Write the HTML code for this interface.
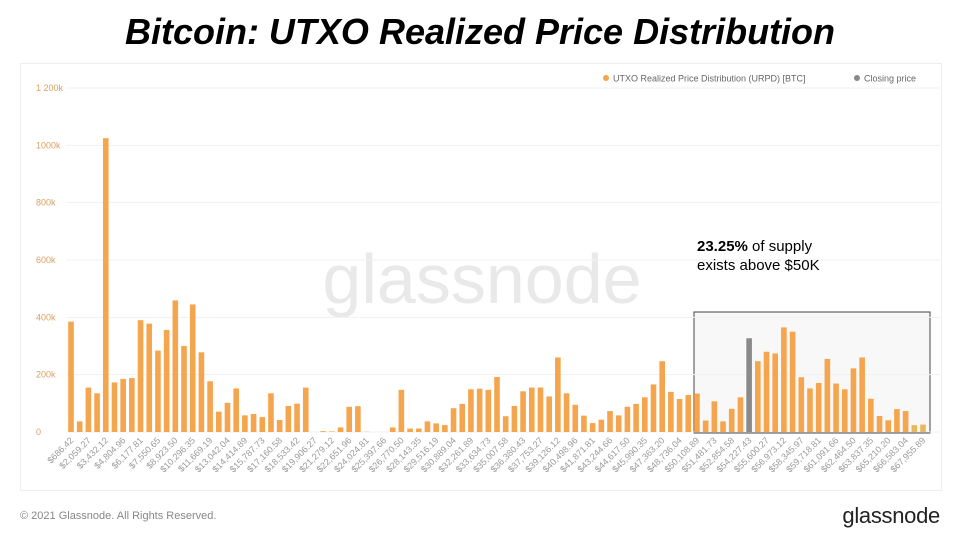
<!DOCTYPE html>
<html><head><meta charset="utf-8">
<style>
body{margin:0;width:960px;height:540px;background:#fff;font-family:"Liberation Sans",sans-serif;overflow:hidden;position:relative}
#title{position:absolute;left:0;top:11px;width:960px;text-align:center;font-weight:bold;font-style:italic;font-size:36px;color:#000}
#panel{position:absolute;left:20px;top:63px;width:922px;height:428px;border:1px solid #eee;box-sizing:border-box}
#foot{position:absolute;left:20px;top:510px;font-size:11px;color:#888}
#logo{position:absolute;right:20px;top:503px;font-size:22px;color:#222;letter-spacing:-0.3px}
svg{position:absolute;left:0;top:0}
</style></head><body>
<div id="title">Bitcoin: UTXO Realized Price Distribution</div>
<div id="panel"></div>
<svg id="chart" width="960" height="540"></svg>
<div id="foot">© 2021 Glassnode. All Rights Reserved.</div>
<div id="logo">glassnode</div>
<script>
const values=[385,37,155,135,1025,173,185,188,390,378,284,356,459,300,445,278,177,71,102,152,58,63,52,135,42,91,99,155,0,3,2,16,88,90,1,0,0,16,147,12,12,37,30,24,83,98,149,151,147,192,55,91,142,155,155,124,260,135,95,57,31,43,73,58,88,98,121,166,247,140,115,129,134,40,107,37,81,121,327,247,280,274,365,350,191,152,171,255,169,149,222,260,116,56,41,80,73,24,26];
const closingIndex=78;
const xLabels=["$686.42","$2,059.27","$3,432.12","$4,804.96","$6,177.81","$7,550.65","$8,923.50","$10,296.35","$11,669.19","$13,042.04","$14,414.89","$15,787.73","$17,160.58","$18,533.42","$19,906.27","$21,279.12","$22,651.96","$24,024.81","$25,397.66","$26,770.50","$28,143.35","$29,516.19","$30,889.04","$32,261.89","$33,634.73","$35,007.58","$36,380.43","$37,753.27","$39,126.12","$40,498.96","$41,871.81","$43,244.66","$44,617.50","$45,990.35","$47,363.20","$48,736.04","$50,108.89","$51,481.73","$52,854.58","$54,227.43","$55,600.27","$56,973.12","$58,345.97","$59,718.81","$61,091.66","$62,464.50","$63,837.35","$65,210.20","$66,583.04","$67,955.89"];
const yTicks=[0,200,400,600,800,1000,1200];
const yTickLabels=["0","200k","400k","600k","800k","1000k","1 200k"];

const NS="http://www.w3.org/2000/svg";
const svg=document.getElementById('chart');
const x0=71,x1=923,yBase=432,yTop=88,yMax=1200;
const n=values.length;
const step=(x1-x0)/(n-1);
const xs=i=>x0+i*step;
const ys=v=>yBase-v*(yBase-yTop)/yMax;
function mk(t,a,p){const e=document.createElementNS(NS,t);for(const k in a)e.setAttribute(k,a[k]);(p||svg).appendChild(e);return e;}

let wm=mk('text',{x:482,y:303,'text-anchor':'middle','font-size':70,fill:'#e9e9e9','font-family':'Liberation Sans, sans-serif'});
wm.textContent='glassnode';



let hb=mk('rect',{x:694,y:312,width:236,height:121,fill:'#f8f8f8',stroke:'#444','stroke-width':1});



yTicks.forEach((t,i)=>{
  const y=ys(t);
  let g=mk('line',{x1:66,x2:940,y1:y,y2:y,stroke:'#f1f1f1','stroke-width':1});
  
  
  let tx=mk('text',{x:36,y:y+3,'font-size':9,fill:'#d9a060'});
  tx.textContent=yTickLabels[i];
  
  
});

values.forEach((v,i)=>{
  const x=xs(i),y=ys(v);
  let r=mk('rect',{x:x-2.8,y:y,width:5.6,height:Math.max(0,yBase-y),fill:i===closingIndex?'#8a8a8a':(i>=n-2?'#e8b860':'#f4a54d')});
  
  
});

xLabels.forEach((l,j)=>{
  const x=xs(j*2);
  let t=mk('text',{x:x+3,y:441,'font-size':9,fill:'#999','text-anchor':'end',transform:`rotate(-45 ${x+3} 441)`});
  t.textContent=l;
  
  
});

let l1=mk('circle',{cx:606,cy:78,r:3,fill:'#f4a54d'});


let lt1=mk('text',{x:613,y:81.5,'font-size':9,fill:'#666'});
lt1.textContent='UTXO Realized Price Distribution (URPD) [BTC]';


let l2=mk('circle',{cx:857,cy:78,r:3,fill:'#888'});


let lt2=mk('text',{x:864,y:81.5,'font-size':9,fill:'#666'});
lt2.textContent='Closing price';



let a1=mk('text',{x:697,y:251,'font-size':15,fill:'#000'});
a1.innerHTML='<tspan font-weight="bold">23.25%</tspan> of supply';


let a2=mk('text',{x:697,y:270,'font-size':15,fill:'#000'});
a2.textContent='exists above $50K';


</script>
</body></html>
